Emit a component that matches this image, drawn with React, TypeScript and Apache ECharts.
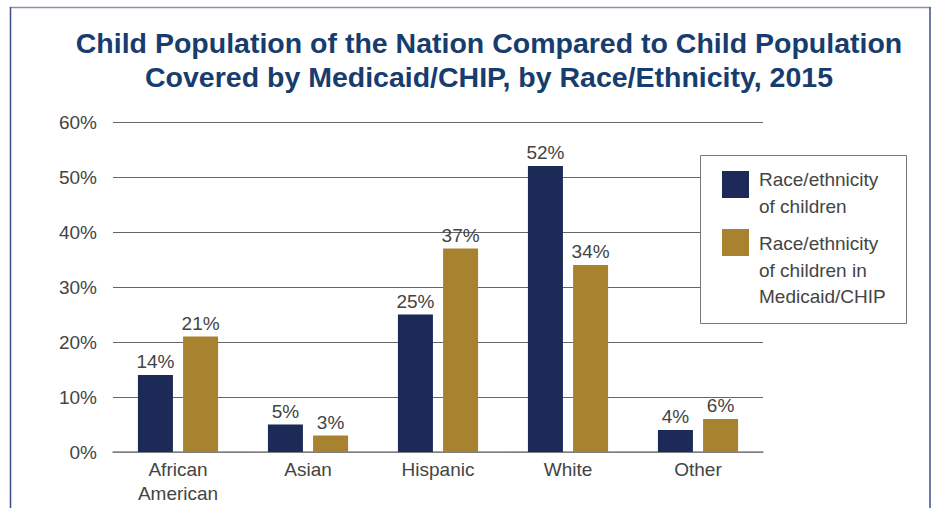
import React, { useEffect, useRef } from "react";
import * as echarts from "echarts";

const categories = ["African\nAmerican", "Asian", "Hispanic", "White", "Other"];
const seriesNames = [
  "Race/ethnicity of children",
  "Race/ethnicity of children in Medicaid/CHIP",
];
const legendLabels = [
  "Race/ethnicity\nof children",
  "Race/ethnicity\nof children in\nMedicaid/CHIP",
];
const childrenAll = [14, 5, 25, 52, 4];
const childrenMedicaid = [21, 3, 37, 34, 6];
const yTicks = { min: 0, max: 60, interval: 10 };
const titleText =
  "Child Population of the Nation Compared to Child Population\nCovered by Medicaid/CHIP, by Race/Ethnicity, 2015";

const NAVY = "#1b2a56";
const GOLD = "#a8832f";
const FONT = "'Liberation Sans', Arial, Helvetica, sans-serif";

export default function App() {
  const ref = useRef<HTMLDivElement>(null);
  useEffect(() => {
    if (!ref.current) return;
    const chart = echarts.init(ref.current, undefined, { renderer: "svg" });
    const labelCfg = {
      show: true,
      position: "top",
      distance: 4,
      formatter: "{c}%",
      fontSize: 19,
      color: "#444",
      fontFamily: FONT,
    };
    chart.setOption({
      animation: false,
      backgroundColor: "#fff",
      title: {
        text: titleText,
        left: 484,
        top: 21,
        textAlign: "center",
        textStyle: {
          fontSize: 28.5,
          fontWeight: "bold",
          color: "#173d6e",
          lineHeight: 34,
          fontFamily: FONT,
        },
      },
      grid: { left: 113, right: 174, top: 122, bottom: 56, containLabel: false },
      xAxis: {
        type: "category",
        data: categories,
        axisTick: { show: false },
        axisLine: { show: true, lineStyle: { color: "#888", width: 1.5 } },
        axisLabel: {
          fontSize: 19,
          color: "#444",
          lineHeight: 24,
          margin: 5,
          fontFamily: FONT,
        },
      },
      yAxis: {
        type: "value",
        min: yTicks.min,
        max: yTicks.max,
        interval: yTicks.interval,
        axisLine: { show: false },
        axisTick: { show: false },
        axisLabel: {
          formatter: "{value}%",
          fontSize: 19,
          color: "#444",
          margin: 16,
          fontFamily: FONT,
        },
        splitLine: { show: true, lineStyle: { color: "#666", width: 1 } },
      },
      series: [
        {
          name: seriesNames[0],
          type: "bar",
          data: childrenAll,
          barWidth: 35,
          barGap: "29%",
          itemStyle: { color: NAVY },
          label: labelCfg,
        },
        {
          name: seriesNames[1],
          type: "bar",
          data: childrenMedicaid,
          barWidth: 35,
          barGap: "29%",
          itemStyle: { color: GOLD },
          label: labelCfg,
        },
      ],
      graphic: [
        {
          type: "line",
          z: 100,
          shape: { x1: 10, y1: 7.5, x2: 930.5, y2: 7.5 },
          style: { stroke: "#8a93ab", lineWidth: 1.5 },
        },
        {
          type: "line",
          z: 100,
          shape: { x1: 10.5, y1: 7, x2: 10.5, y2: 508 },
          style: { stroke: "#3b4c8c", lineWidth: 1.5 },
        },
        {
          type: "line",
          z: 100,
          shape: { x1: 930, y1: 7, x2: 930, y2: 508 },
          style: { stroke: "#3b4c8c", lineWidth: 1.5 },
        },
        {
          type: "rect",
          z: 100,
          shape: { x: 700.5, y: 155.5, width: 206, height: 168 },
          style: { fill: "#fff", stroke: "#777", lineWidth: 1 },
        },
        {
          type: "rect",
          z: 101,
          shape: { x: 722, y: 171, width: 27, height: 27 },
          style: { fill: NAVY },
        },
        {
          type: "rect",
          z: 101,
          shape: { x: 722, y: 229, width: 27, height: 27 },
          style: { fill: GOLD },
        },
        {
          type: "text",
          z: 101,
          x: 759,
          y: 166.5,
          style: {
            text: legendLabels[0],
            fontSize: 19,
            lineHeight: 26.5,
            fill: "#444",
            fontFamily: FONT,
            verticalAlign: "top",
            align: "left",
          },
        },
        {
          type: "text",
          z: 101,
          x: 759,
          y: 230.5,
          style: {
            text: legendLabels[1],
            fontSize: 19,
            lineHeight: 26.5,
            fill: "#444",
            fontFamily: FONT,
            verticalAlign: "top",
            align: "left",
          },
        },
      ],
    });
    return () => chart.dispose();
  }, []);
  return (
    <div
      ref={ref}
      style={{ position: "fixed", left: 0, top: 0, width: 937, height: 508 }}
    />
  );
}
